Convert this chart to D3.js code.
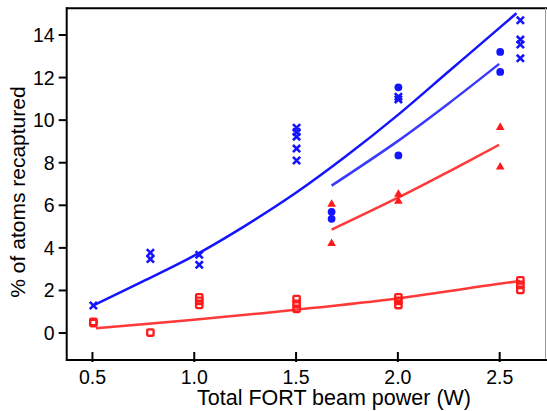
<!DOCTYPE html>
<html><head><meta charset="utf-8">
<script src="https://cdn.jsdelivr.net/npm/d3@7"></script>
<style>
html,body{margin:0;padding:0;background:#fff;}
svg{display:block;font-family:"Liberation Sans",Arial,sans-serif;}
</style></head>
<body><svg id="c" width="547" height="411"></svg>
<script>
// ---- data ----
const xTicks = [0.5, 1.0, 1.5, 2.0, 2.5];
const xTickLabels = ["0.5", "1.0", "1.5", "2.0", "2.5"];
const yTicks = [0, 2, 4, 6, 8, 10, 12, 14];
const yTickLabels = ["0", "2", "4", "6", "8", "10", "12", "14"];

// blue crosses
const crossX = [0.507, 0.787, 0.787, 1.027, 1.027, 1.505, 1.505, 1.505, 1.505, 1.505, 2.005, 2.005, 2.604, 2.604, 2.604, 2.604];
const crossY = [1.27, 3.75, 3.45, 3.65, 3.18, 9.62, 9.42, 9.2, 8.64, 8.08, 11.08, 10.95, 14.67, 13.76, 13.53, 12.88];
// blue circles
const circleX = [1.677, 1.677, 2.005, 2.005, 2.505, 2.505];
const circleY = [5.67, 5.34, 11.52, 8.32, 13.18, 12.24];
// red triangles
const triX = [1.677, 1.677, 2.005, 2.005, 2.505, 2.505];
const triY = [6.05, 4.2, 6.52, 6.19, 9.66, 7.8];
// red open squares
const sqX = [0.507, 0.507, 0.787, 1.027, 1.027, 1.027, 1.505, 1.505, 1.505, 2.005, 2.005, 2.005, 2.604, 2.604, 2.604];
const sqY = [0.5, 0.44, 0.0, 1.65, 1.49, 1.3, 1.57, 1.35, 1.11, 1.65, 1.49, 1.29, 2.45, 2.24, 2.0];

// fit curves
const fitBlueX = [0.507, 0.75, 1.0, 1.25, 1.5, 1.75, 2.0, 2.25, 2.5, 2.585];
const fitBlueY = [1.27, 2.4, 3.6, 5.0, 6.55, 8.3, 10.2, 12.25, 14.3, 15.0];
const fitBlue2X = [1.677, 2.0, 2.25, 2.5];
const fitBlue2Y = [6.9, 8.98, 10.75, 12.62];
const fitRedTriX = [1.677, 2.0, 2.25, 2.5];
const fitRedTriY = [4.83, 6.32, 7.55, 8.82];
const fitRedSqX = [0.52, 1.0, 1.5, 2.0, 2.5, 2.604];
const fitRedSqY = [0.2, 0.6, 1.07, 1.6, 2.29, 2.42];

// ---- drawing ----
const svg = d3.select("#c");
const x = d3.scaleLinear().domain([0.376, 2.725]).range([66.7, 545]);
const y = d3.scaleLinear().domain([-1.29, 15.23]).range([360, 8.3]);

const BLUE = "#1414ff", BLUE2 = "#3a3aff", RED = "#ff1a1a", RED2 = "#ff3838";

// frame
svg.append("line").attr("x1", 66).attr("x2", 547).attr("y1", 8.3).attr("y2", 8.3).attr("stroke", "#000").attr("stroke-width", 2);
svg.append("line").attr("x1", 545.5).attr("x2", 545.5).attr("y1", 8).attr("y2", 360).attr("stroke", "#999").attr("stroke-width", 1);

// x axis
const xAxis = svg.append("g").attr("transform", "translate(0,360)")
  .call(d3.axisBottom(x).tickValues(xTicks).tickFormat((d, i) => xTickLabels[i]).tickSizeInner(0).tickSizeOuter(0).tickPadding(0));
xAxis.select(".domain").remove();
xAxis.selectAll(".tick line").attr("y1", -8).attr("y2", 2).attr("stroke", "#000").attr("stroke-width", 2);
xAxis.selectAll(".tick text").attr("y", 24).attr("dy", 0).attr("font-size", 19.5).attr("fill", "#000")
  .attr("font-family", "Liberation Sans, Arial, sans-serif");
svg.append("line").attr("x1", 66).attr("x2", 547).attr("y1", 360).attr("y2", 360).attr("stroke", "#000").attr("stroke-width", 2);

// y axis
const yAxis = svg.append("g").attr("transform", "translate(66.7,0)")
  .call(d3.axisLeft(y).tickValues(yTicks).tickFormat((d, i) => yTickLabels[i]).tickSizeInner(8).tickSizeOuter(0).tickPadding(4));
yAxis.select(".domain").remove();
yAxis.selectAll(".tick line").attr("stroke", "#000").attr("stroke-width", 2);
yAxis.selectAll(".tick text").attr("font-size", 19.5).attr("fill", "#000").attr("dy", "0.36em")
  .attr("font-family", "Liberation Sans, Arial, sans-serif");
svg.append("line").attr("x1", 66.7).attr("x2", 66.7).attr("y1", 7.3).attr("y2", 361).attr("stroke", "#000").attr("stroke-width", 2);

// axis titles
svg.append("text").attr("x", 334).attr("y", 405).attr("text-anchor", "middle").attr("font-size", 21.5).attr("fill", "#000")
  .text("Total FORT beam power (W)");
svg.append("text").attr("transform", "translate(25,192) rotate(-90)").attr("text-anchor", "middle").attr("font-size", 21).attr("fill", "#000")
  .text("% of atoms recaptured");

// fit lines
const line = d3.line().x(d => x(d[0])).y(d => y(d[1])).curve(d3.curveCatmullRom);
function drawFit(xs, ys, color) {
  svg.append("path").datum(xs.map((v, i) => [v, ys[i]])).attr("d", line)
    .attr("fill", "none").attr("stroke", color).attr("stroke-width", 2.5);
}
drawFit(fitBlueX, fitBlueY, BLUE);
drawFit(fitBlue2X, fitBlue2Y, BLUE2);
drawFit(fitRedTriX, fitRedTriY, RED2);
drawFit(fitRedSqX, fitRedSqY, RED2);

// markers
svg.append("g").selectAll("path").data(crossX.map((v, i) => [v, crossY[i]])).join("path")
  .attr("transform", d => `translate(${x(d[0])},${y(d[1])})`)
  .attr("d", "M-3.6,-3.6L3.6,3.6M-3.6,3.6L3.6,-3.6")
  .attr("stroke", BLUE).attr("stroke-width", 2.6).attr("fill", "none");
svg.append("g").selectAll("circle").data(circleX.map((v, i) => [v, circleY[i]])).join("circle")
  .attr("cx", d => x(d[0])).attr("cy", d => y(d[1])).attr("r", 3.9).attr("fill", BLUE);
svg.append("g").selectAll("path").data(triX.map((v, i) => [v, triY[i]])).join("path")
  .attr("transform", d => `translate(${x(d[0])},${y(d[1])})`)
  .attr("d", "M0,-4.6L4.3,3L-4.3,3Z").attr("fill", RED);
svg.append("g").selectAll("rect").data(sqX.map((v, i) => [v, sqY[i]])).join("rect")
  .attr("x", d => x(d[0]) - 3.2).attr("y", d => y(d[1]) - 3.2).attr("width", 6.4).attr("height", 6.4)
  .attr("rx", 1).attr("fill", "none").attr("stroke", RED).attr("stroke-width", 2.3);
</script></body></html>
